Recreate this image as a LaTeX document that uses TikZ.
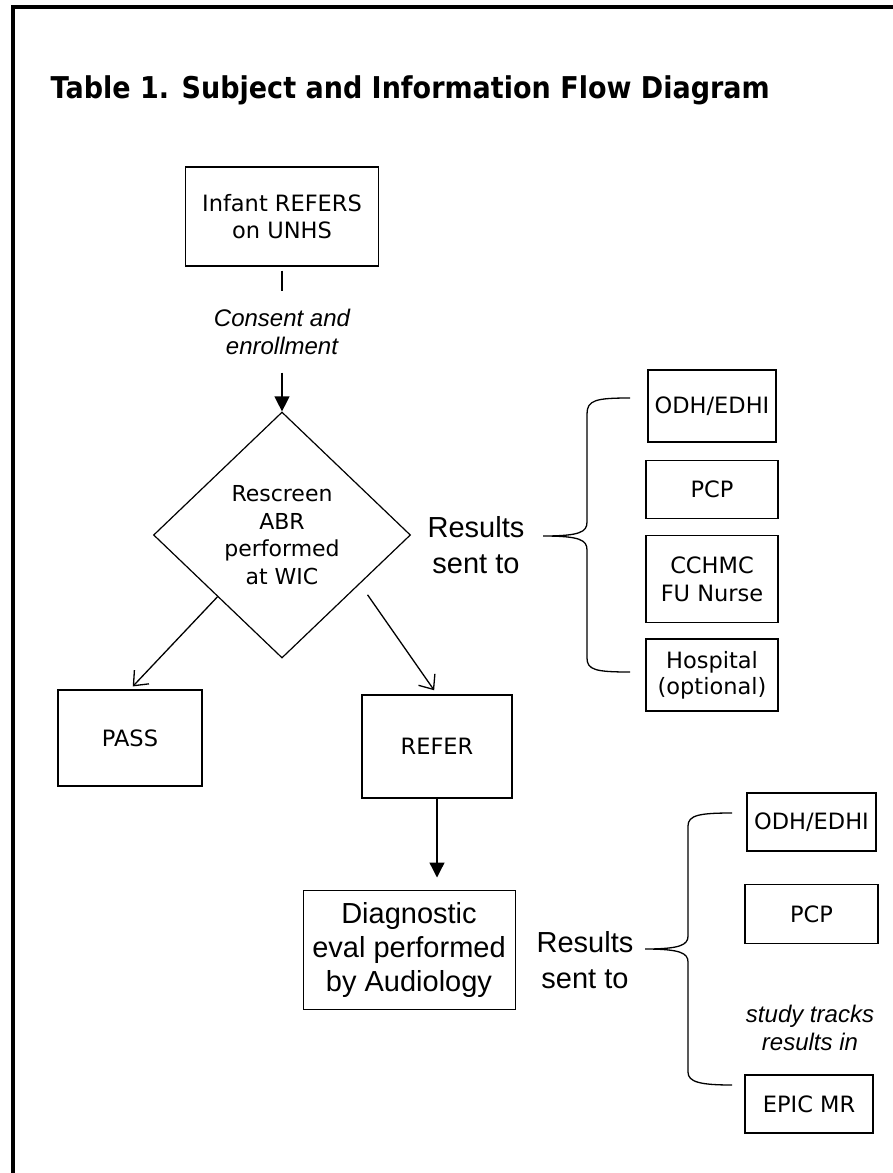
\documentclass[tikz,border=0pt]{standalone}
\usepackage{fontspec}
\setmainfont{Liberation Sans}
\newfontfamily\verdanafont{DejaVu Sans}
\newfontfamily\titlefont{DejaVu Sans}[FakeStretch=0.9]
\usetikzlibrary{positioning,shapes.geometric,arrows.meta,calc}
\tikzset{main node/.style={draw, line width=1.3pt, inner sep=0pt, align=center,
    font=\verdanafont\fontsize{22.5}{27.5}\selectfont},
  test node/.style={diamond, draw, line width=1.2pt, inner sep=0pt, align=center,
    font=\verdanafont\fontsize{22}{27.5}\selectfont},
  sent node/.style={align=center, inner sep=0pt, font=\fontsize{29}{36}\selectfont},
  note node/.style={align=center, inner sep=0pt, font=\itshape\fontsize{24}{28}\selectfont},
  solid tip/.style={-{Triangle[length=15pt,width=15pt]}},
  open tip/.style={-{Straight Barb[length=12pt,width=20pt]}},
}

\begin{document}
\begin{tikzpicture}[x=1pt, y=-1pt, line width=1.3pt]
        \useasboundingbox (0,0) rectangle (893,1173);
        \draw[line width=4pt] (13,1173) -- (13,7) -- (893,7);
        \node[anchor=base west, inner sep=0pt, font=\titlefont\bfseries\fontsize{30}{34}\selectfont] (title) at (50,98) {Table 1. Subject and Information Flow Diagram};
        % Nodes
        \node[main node, minimum width=193pt, minimum height=99pt] (infant) at (282,216.5) {Infant REFERS\\on UNHS};
        \node[note node, minimum height=80pt] (consent) at (282,332) {Consent and\\enrollment};
        \node[test node, minimum width=257pt, minimum height=246pt] (rescreen) at (282,535) {Rescreen\\ABR\\performed\\at WIC};
        \node[main node, minimum width=144pt, minimum height=96pt] (pass) at (130,738) {PASS};
        \node[main node, minimum width=150pt, minimum height=103pt] (refer) at (437,746.5) {REFER};
        \node[main node, line width=1pt, font=\fontsize{29}{34}\selectfont, minimum width=212pt, minimum height=119pt] (diag) at (409,949.5) {Diagnostic\\eval performed\\by Audiology};
        \node[sent node] (sent1) at (476,545) {Results\\sent to};
        \node[sent node] (sent2) at (585,960) {Results\\sent to};
        % first set of receivers
        \node[main node, line width=1.7pt, minimum width=128pt, minimum height=72pt] (odh1) at (712,406) {ODH/EDHI};
        \node[main node, minimum width=132pt, minimum height=58pt] [below = 17pt of odh1] (pcp1) {PCP};
        \node[main node, minimum width=132pt, minimum height=87pt] [below = 16pt of pcp1] (cchmc) {CCHMC\\FU Nurse};
        \node[main node, minimum width=132pt, minimum height=72pt, font=\verdanafont\fontsize{22.5}{25.5}\selectfont] [below = 15pt of cchmc] (hosp) {Hospital\\(optional)};
        % second set of receivers
        \node[main node, line width=2pt, minimum width=129pt, minimum height=58pt] (odh2) at (811.5,822) {ODH/EDHI};
        \node[main node, minimum width=133pt, minimum height=59pt] [below = 32pt of odh2] (pcp2) {PCP};
        \node[note node] (track) at (810,1028) {study tracks\\results in};
        \node[main node, minimum width=128pt, minimum height=58pt] (epic) at (809,1104) {EPIC MR};
        % Paths
        \path[draw]
        (infant) edge [shorten <=4pt] (consent)
        (consent) edge [solid tip] (rescreen)
        (rescreen.south west) edge [open tip, shorten >=4pt] (pass.north)
        ($(rescreen.south east)+(21,-2)$) edge [open tip, shorten >=5pt] (refer.north)
        (refer.south) edge [solid tip, shorten >=12pt] (refer.south |- diag.north);
        % Braces
        \draw (630,398) .. controls (596,398) and (587,400) .. (587,414) -- (587,522)
          .. controls (587,532) and (580,536) .. (543,536)
          .. controls (580,536) and (587,540) .. (587,550) -- (587,658)
          .. controls (587,670) and (596,672) .. (630,672);
        \draw (732,813) .. controls (700,813) and (688,815) .. (688,826) -- (688,936)
          .. controls (688,945) and (680,949) .. (645,949)
          .. controls (680,949) and (688,953) .. (688,962) -- (688,1072)
          .. controls (688,1082) and (700,1085) .. (732,1085);
    \end{tikzpicture}
\end{document}
